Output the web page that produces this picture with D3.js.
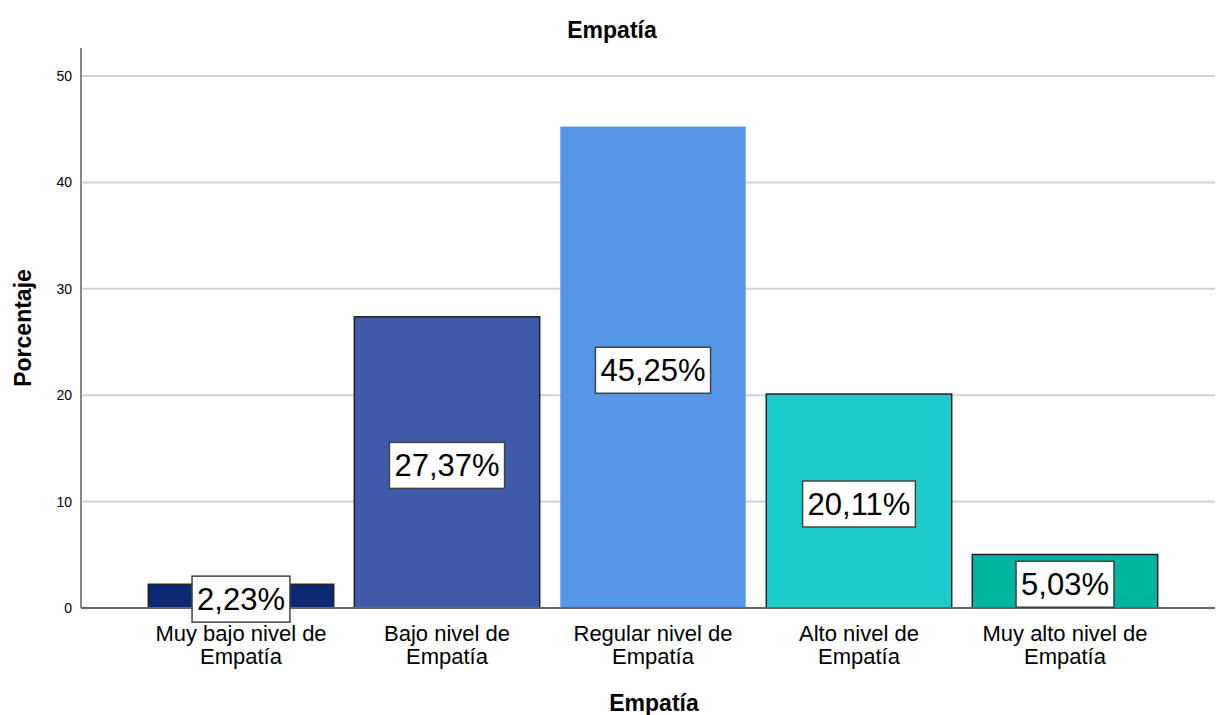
<!DOCTYPE html>
<html>
<head>
<meta charset="utf-8">
<script src="https://cdn.jsdelivr.net/npm/d3@7"></script>
<style>
  body { margin: 0; background: #fff; }
  text { font-family: "Liberation Sans", Arial, sans-serif; fill: #000; }
</style>
</head>
<body>
<svg id="chart" width="1217" height="715"></svg>
<script>
// Empatía bar chart
const categories = [
    ["Muy bajo nivel de", "Empatía"],
    ["Bajo nivel de", "Empatía"],
    ["Regular nivel de", "Empatía"],
    ["Alto nivel de", "Empatía"],
    ["Muy alto nivel de", "Empatía"]
];
const percentages = [2.23, 27.37, 45.25, 20.11, 5.03];
const barColors = ["#0b2a73", "#3f5aa9", "#5596e6", "#1dcdcd", "#00b5a0"];
const yTicks = [0, 10, 20, 30, 40, 50];

const svg = d3.select("#chart");
const x0 = 81, x1 = 1215, yTop = 48, yBase = 608;

const x = d3.scaleBand().domain(d3.range(percentages.length))
    .range([138, 1168]).paddingInner(0.1).paddingOuter(0.05);
const y = d3.scaleLinear().domain([0, 50]).range([yBase, 76]);

// grid lines
svg.append("g").selectAll("line").data(yTicks.filter(d => d > 0)).enter().append("line")
    .attr("x1", x0).attr("x2", x1)
    .attr("y1", d => y(d)).attr("y2", d => y(d))
    .attr("stroke", "#d2d2d2").attr("stroke-width", 2);

// y axis
const yAxis = svg.append("g").attr("transform", `translate(${x0},0)`)
    .call(d3.axisLeft(y).tickValues(yTicks).tickSize(0).tickPadding(9));
yAxis.select(".domain").remove();
yAxis.selectAll("text").style("font-size", "14px").attr("fill", "#222");
svg.append("line").attr("x1", x0).attr("x2", x0).attr("y1", yTop).attr("y2", yBase)
    .attr("stroke", "#888").attr("stroke-width", 2);

// bars
svg.append("g").selectAll("rect").data(percentages).enter().append("rect")
    .attr("x", (d, i) => x(i)).attr("width", x.bandwidth())
    .attr("y", d => y(d)).attr("height", d => yBase - y(d))
    .attr("fill", (d, i) => barColors[i])
    .attr("stroke", (d, i) => i === 2 ? "none" : "#222")
    .attr("stroke-width", 1.5);

// baseline
svg.append("line").attr("x1", x0).attr("x2", x1).attr("y1", yBase).attr("y2", yBase)
    .attr("stroke", "#666").attr("stroke-width", 2);

// value labels
const fmt = v => v.toFixed(2).replace(".", ",") + "%";
const lab = svg.append("g").selectAll("g").data(percentages).enter().append("g")
    .attr("transform", (d, i) => `translate(${x(i) + x.bandwidth() / 2},${(y(d) + yBase) / 2 + 3})`);
lab.append("text").attr("class", "val")
    .attr("text-anchor", "middle").attr("dy", "0.35em")
    .style("font-size", "31px").text(fmt);
lab.each(function() {
    const g = d3.select(this);
    const bb = g.select("text").node().getBBox();
    g.insert("rect", "text")
        .attr("x", bb.x - 5).attr("y", -23).attr("width", bb.width + 10).attr("height", 46)
        .attr("fill", "#fff").attr("stroke", "#444").attr("stroke-width", 1.5);
});

// category labels
svg.append("g").selectAll("text").data(categories).enter().append("text")
    .attr("x", (d, i) => x(i) + x.bandwidth() / 2).attr("y", 641)
    .attr("text-anchor", "middle").style("font-size", "22px").attr("fill", "#222")
    .each(function(d) {
        d3.select(this).selectAll("tspan").data(d).enter().append("tspan")
            .attr("x", d3.select(this).attr("x")).attr("dy", (t, j) => j ? 23 : 0).text(t => t);
    });

// titles
svg.append("text").attr("x", 612).attr("y", 38).attr("text-anchor", "middle")
    .style("font-size", "23px").style("font-weight", "bold").text("Empatía");
svg.append("text").attr("x", 654).attr("y", 711).attr("text-anchor", "middle")
    .style("font-size", "23px").style("font-weight", "bold").text("Empatía");
svg.append("text").attr("transform", "translate(31,328) rotate(-90)").attr("text-anchor", "middle")
    .style("font-size", "23px").style("font-weight", "bold").text("Porcentaje");
</script>
</body>
</html>
